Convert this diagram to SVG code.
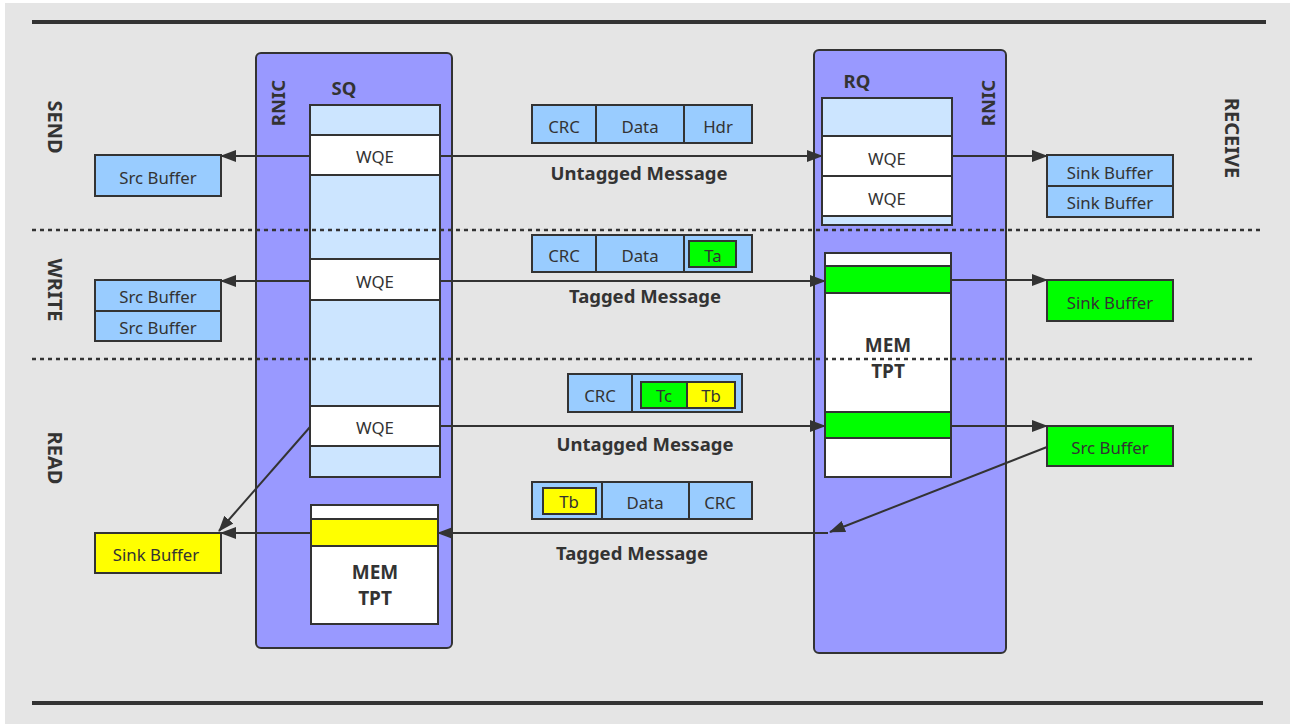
<svg xmlns="http://www.w3.org/2000/svg" width="1290" height="724" viewBox="0 0 1290 724">
  <style>
    .box { stroke: #333333; stroke-width: 2; }
    .blue { fill: #99ccff; }
    .pale { fill: #cce5ff; }
    .white { fill: #ffffff; }
    .green { fill: #00ff00; }
    .yellow { fill: #ffff00; }
    .rnic { fill: #9999ff; stroke: #333333; stroke-width: 2; }
    .t { font-family: "Noto Sans", "Open Sans", "Liberation Sans", sans-serif; font-size: 16.8px; fill: #333333; text-anchor: middle; dominant-baseline: central; }
    .b { font-family: "Noto Sans", "Open Sans", "Liberation Sans", sans-serif; font-size: 18.5px; font-weight: bold; fill: #333333; text-anchor: middle; dominant-baseline: central; }
    .sec { font-size: 20px; }
    .big { font-size: 19px; }
    .wire { stroke: #333333; stroke-width: 2; fill: none; }
    .rule { stroke: #333333; stroke-width: 4; }
    .dash { stroke: #333333; stroke-width: 2.5; stroke-dasharray: 4 4; }
  </style>
  <defs>
    <marker id="arrow" viewBox="0 0 16 12" refX="15" refY="6" markerWidth="16" markerHeight="12" markerUnits="userSpaceOnUse" orient="auto">
      <path d="M0,0 L16,6 L0,12 Z" fill="#333333"/>
    </marker>
  </defs>

  <!-- canvas -->
  <rect x="5" y="3" width="1285" height="721" fill="#e5e5e5"/>
  <line class="rule" x1="32" y1="22" x2="1266" y2="22"/>
  <line class="rule" x1="32" y1="703" x2="1263" y2="703"/>

  <!-- operation labels -->
  <text class="b sec" transform="translate(55,127) rotate(90)">SEND</text>
  <text class="b sec" transform="translate(55,290) rotate(90)">WRITE</text>
  <text class="b sec" transform="translate(55,458) rotate(90)">READ</text>
  <text class="b sec" transform="translate(1232,138) rotate(90)">RECEIVE</text>

  <!-- local RNIC with send queue and memory TPT -->
  <g id="rnic-local">
    <rect class="rnic" x="256" y="53" width="196" height="595" rx="5"/>
    <text class="b" transform="translate(277,103) rotate(-90)">RNIC</text>
    <text class="b" x="344" y="87">SQ</text>
  </g>
  <g id="sq">
    <rect class="box pale" x="310" y="105" width="130" height="372"/>
  </g>
  <g id="sq-wqe-send">
    <rect class="box white" x="310" y="135" width="130" height="40"/>
    <text class="t" x="375" y="156">WQE</text>
  </g>
  <g id="sq-wqe-write">
    <rect class="box white" x="310" y="259" width="130" height="41"/>
    <text class="t" x="375" y="281">WQE</text>
  </g>
  <g id="sq-wqe-read">
    <rect class="box white" x="310" y="406" width="130" height="40"/>
    <text class="t" x="375" y="427">WQE</text>
  </g>
  <g id="tpt-local">
    <rect class="box white" x="311" y="505" width="127" height="119"/>
    <rect class="box yellow" x="311" y="519" width="127" height="27"/>
    <text class="b big" x="375" y="572">MEM</text>
    <text class="b big" x="375" y="598">TPT</text>
  </g>

  <!-- remote RNIC with receive queue and memory TPT -->
  <g id="rnic-remote">
    <rect class="rnic" x="814" y="50" width="192" height="603" rx="5"/>
    <text class="b" transform="translate(987,103) rotate(-90)">RNIC</text>
    <text class="b" x="857" y="80">RQ</text>
  </g>
  <g id="rq">
    <rect class="box pale" x="822" y="98" width="130" height="127"/>
    <rect class="box white" x="822" y="136" width="130" height="40"/>
    <text class="t" x="887" y="158">WQE</text>
    <rect class="box white" x="822" y="176" width="130" height="40"/>
    <text class="t" x="887" y="198">WQE</text>
  </g>
  <g id="tpt-remote">
    <rect class="box white" x="825" y="253" width="126" height="224"/>
    <rect class="box green" x="825" y="266" width="126" height="27"/>
    <rect class="box green" x="825" y="412" width="126" height="26"/>
    <text class="b big" x="888" y="345">MEM</text>
    <text class="b big" x="888" y="371">TPT</text>
  </g>

  <!-- local buffers -->
  <g id="src-send">
    <rect class="box blue" x="95" y="155" width="126" height="41"/>
    <text class="t" x="158" y="177">Src Buffer</text>
  </g>
  <g id="src-write">
    <rect class="box blue" x="95" y="280" width="126" height="31"/>
    <text class="t" x="158" y="296">Src Buffer</text>
    <rect class="box blue" x="95" y="311" width="126" height="30"/>
    <text class="t" x="158" y="327">Src Buffer</text>
  </g>
  <g id="sink-read">
    <rect class="box yellow" x="95" y="533" width="126" height="40"/>
    <text class="t" x="156" y="554">Sink Buffer</text>
  </g>

  <!-- remote buffers -->
  <g id="sink-send">
    <rect class="box blue" x="1047" y="155" width="126" height="31"/>
    <text class="t" x="1110" y="172">Sink Buffer</text>
    <rect class="box blue" x="1047" y="186" width="126" height="31"/>
    <text class="t" x="1110" y="202">Sink Buffer</text>
  </g>
  <g id="sink-write">
    <rect class="box green" x="1047" y="280" width="126" height="41"/>
    <text class="t" x="1110" y="302">Sink Buffer</text>
  </g>
  <g id="src-read">
    <rect class="box green" x="1047" y="426" width="126" height="40"/>
    <text class="t" x="1110" y="447">Src Buffer</text>
  </g>

  <!-- packet formats -->
  <g id="pkt-send">
    <rect class="box blue" x="532" y="105" width="220" height="38"/>
    <line class="wire" x1="596" y1="105" x2="596" y2="143"/>
    <line class="wire" x1="684" y1="105" x2="684" y2="143"/>
    <text class="t" x="564" y="126">CRC</text>
    <text class="t" x="640" y="126">Data</text>
    <text class="t" x="718" y="126">Hdr</text>
  </g>
  <g id="pkt-write">
    <rect class="box blue" x="532" y="235" width="220" height="37"/>
    <line class="wire" x1="596" y1="235" x2="596" y2="272"/>
    <line class="wire" x1="684" y1="235" x2="684" y2="272"/>
    <rect class="box green" x="689" y="241" width="47" height="26"/>
    <text class="t" x="564" y="255">CRC</text>
    <text class="t" x="640" y="255">Data</text>
    <text class="t" x="713" y="255">Ta</text>
  </g>
  <g id="pkt-read-request">
    <rect class="box blue" x="568" y="374" width="174" height="38"/>
    <line class="wire" x1="632" y1="374" x2="632" y2="412"/>
    <rect class="box green" x="641" y="382" width="46" height="26"/>
    <rect class="box yellow" x="687" y="382" width="48" height="26"/>
    <text class="t" x="600" y="395">CRC</text>
    <text class="t" x="664" y="395">Tc</text>
    <text class="t" x="711" y="395">Tb</text>
  </g>
  <g id="pkt-read-response">
    <rect class="box blue" x="532" y="482" width="220" height="37"/>
    <line class="wire" x1="602" y1="482" x2="602" y2="519"/>
    <line class="wire" x1="689" y1="482" x2="689" y2="519"/>
    <rect class="box yellow" x="543" y="488" width="53" height="26"/>
    <text class="t" x="569" y="501">Tb</text>
    <text class="t" x="645" y="502">Data</text>
    <text class="t" x="720" y="502">CRC</text>
  </g>

  <!-- section dividers -->
  <line class="dash" x1="32" y1="230" x2="1262" y2="230"/>
  <line class="dash" x1="32" y1="359" x2="1252" y2="359"/>

  <!-- connectors -->
  <g id="connectors">
    <line class="wire" x1="310" y1="156" x2="221" y2="156" marker-end="url(#arrow)"/>
    <line class="wire" x1="440" y1="156" x2="822" y2="156" marker-end="url(#arrow)"/>
    <line class="wire" x1="952" y1="156" x2="1047" y2="156" marker-end="url(#arrow)"/>

    <line class="wire" x1="310" y1="281" x2="221" y2="281" marker-end="url(#arrow)"/>
    <line class="wire" x1="440" y1="281" x2="825" y2="281" marker-end="url(#arrow)"/>
    <line class="wire" x1="951" y1="280" x2="1047" y2="280" marker-end="url(#arrow)"/>

    <line class="wire" x1="440" y1="426" x2="825" y2="426" marker-end="url(#arrow)"/>
    <line class="wire" x1="951" y1="426" x2="1047" y2="426" marker-end="url(#arrow)"/>
    <line class="wire" x1="1047" y1="447" x2="830" y2="532" marker-end="url(#arrow)"/>
    <line class="wire" x1="828" y1="533" x2="438" y2="533" marker-end="url(#arrow)"/>
    <line class="wire" x1="311" y1="533" x2="221" y2="533" marker-end="url(#arrow)"/>
    <line class="wire" x1="310" y1="427" x2="219" y2="531" marker-end="url(#arrow)"/>
  </g>

  <!-- message labels -->
  <text class="b" x="639" y="172">Untagged Message</text>
  <text class="b" x="645" y="295">Tagged Message</text>
  <text class="b" x="645" y="443">Untagged Message</text>
  <text class="b" x="632" y="552">Tagged Message</text>
</svg>
